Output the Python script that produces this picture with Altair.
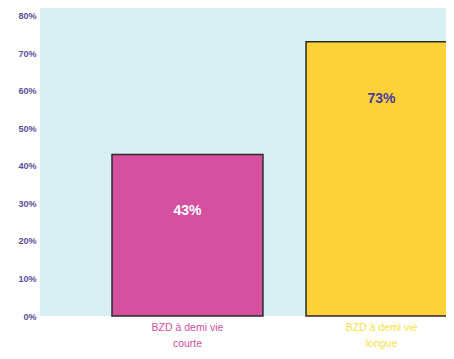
import altair as alt
import pandas as pd

categories = ["BZD à demi vie courte", "BZD à demi vie longue"]
cat_labels = ["BZD à demi vie\ncourte", "BZD à demi vie\nlongue"]
values = [0.43, 0.73]
value_labels = ["43%", "73%"]
bar_colors = ["#d5509f", "#fdd138"]
value_label_colors = ["#ffffff", "#4b3a9c"]
cat_label_colors = ["#cf4f9c", "#f3e23e"]
y_ticks = [0, 0.1, 0.2, 0.3, 0.4, 0.5, 0.6, 0.7, 0.8]

df = pd.DataFrame({
    "cat": categories,
    "catlabel": cat_labels,
    "value": values,
    "vlabel": value_labels,
    "barc": bar_colors,
    "vlc": value_label_colors,
    "clc": cat_label_colors,
})

x = alt.X("cat:N", sort=categories, axis=None,
          scale=alt.Scale(range=[0, 489], paddingInner=0.222, paddingOuter=0.371))
y = alt.Y("value:Q",
          scale=alt.Scale(domain=[0, 0.82], nice=False),
          axis=alt.Axis(values=y_ticks, format=".0%", grid=False, ticks=False,
                        domain=False, title=None, labelColor="#5b4c9c",
                        labelFont="Liberation Sans", labelFontSize=9,
                        labelFontWeight="bold", labelPadding=4))

base = alt.Chart(df)

bars = base.mark_bar(stroke="#2a2a2a", strokeWidth=1.5).encode(
    x=x, y=y, color=alt.Color("barc:N", scale=None)
)

vtext = base.mark_text(dy=57, fontSize=14, fontWeight="bold",
                       font="Liberation Sans", baseline="middle").encode(
    x=x, y=y, text="vlabel:N", color=alt.Color("vlc:N", scale=None)
)

ctext = base.mark_text(baseline="top", lineBreak="\n", fontSize=10.5,
                       lineHeight=16, font="Liberation Sans").encode(
    x=x, y=alt.value(315), text="catlabel:N", color=alt.Color("clc:N", scale=None)
)

chart = (bars + vtext + ctext).properties(
    width=406, height=308,
    padding={"left": 32, "top": 0, "right": 0, "bottom": 35},
    autosize="none",
).configure_view(fill="#d8eff3", strokeWidth=0)

chart.save("out.html", embed_options={"renderer": "svg", "actions": False})
